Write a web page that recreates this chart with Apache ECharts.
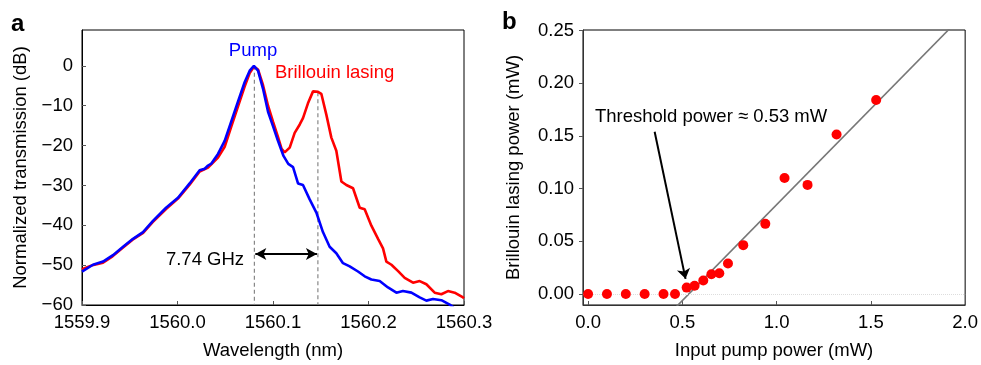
<!DOCTYPE html>
<html>
<head>
<meta charset="utf-8">
<script src="https://cdn.jsdelivr.net/npm/echarts@6/dist/echarts.min.js"></script>
<style>
html,body{margin:0;padding:0;background:#fff;}
#chart{width:981px;height:365px;}
</style>
</head>
<body>
<div id="chart"></div>
<script>
// ---------- Panel a data ----------
const pumpNm = [1559.900,1559.9115,1559.922,1559.9324,1559.943,1559.9534,1559.9639,1559.9743,1559.988,1560.0005,1560.0127,1560.0232,1560.0285,1560.032,1560.0355,1560.0424,1560.0494,1560.0564,1560.0633,1560.0703,1560.0756,1560.080,1560.0843,1560.0895,1560.0948,1560.100,1560.1052,1560.1110,1560.1160,1560.121,1560.1262,1560.1314,1560.1384,1560.1454,1560.1523,1560.1593,1560.1663,1560.1733,1560.1803,1560.189,1560.196,1560.203,1560.2117,1560.2204,1560.2292,1560.236,1560.2449,1560.2536,1560.2606,1560.2675,1560.2763,1560.285,1560.289];
const pumpDb = [-51.6,-49.9,-49.1,-47.5,-45.4,-43.4,-41.7,-38.9,-35.6,-33.1,-29.5,-26.2,-25.8,-25.0,-24.5,-22.1,-18.8,-13.9,-9.0,-4.1,-1.2,0,-1.2,-5.7,-11.5,-15.1,-18.8,-22.6,-24.6,-25.4,-29.5,-29.9,-33.5,-36.8,-41.7,-45.4,-47.0,-49.5,-50.3,-51.6,-52.8,-53.6,-54.0,-55.6,-56.9,-56.5,-56.9,-58.1,-58.9,-58.5,-58.8,-59.9,-60.6];

const stokesNm = [1559.900,1559.911,1559.922,1559.932,1559.943,1559.953,1559.964,1559.974,1559.988,1560.0005,1560.0127,1560.0232,1560.032,1560.0424,1560.0494,1560.0564,1560.0633,1560.0703,1560.0756,1560.080,1560.0843,1560.0895,1560.0948,1560.100,1560.1052,1560.109,1560.1122,1560.1175,1560.1227,1560.128,1560.1314,1560.1366,1560.1419,1560.1471,1560.1506,1560.1559,1560.1611,1560.1663,1560.1716,1560.1768,1560.1838,1560.1908,1560.196,1560.203,1560.210,1560.2152,1560.2187,1560.224,1560.231,1560.2379,1560.2466,1560.2536,1560.2606,1560.2693,1560.2763,1560.2832,1560.2902,1560.299,1560.300];
const stokesDb = [-51.0,-50.0,-49.4,-47.8,-45.6,-43.6,-41.9,-39.2,-35.9,-33.3,-29.8,-26.5,-25.5,-23.0,-20.3,-15.2,-10.2,-5.2,-1.8,-0.2,-0.9,-4.8,-10.0,-14.0,-17.8,-20.8,-21.7,-20.5,-16.8,-14.7,-13.1,-9.4,-6.4,-6.5,-7.0,-12.3,-18.0,-21.3,-29.0,-29.9,-30.7,-35.6,-36.0,-40.1,-43.4,-45.8,-49.1,-49.9,-51.5,-53.2,-54.4,-54.0,-54.8,-56.9,-57.3,-56.5,-56.9,-58.1,-58.3];

const wavelengthTicks = [1559.9,1560.0,1560.1,1560.2,1560.3];
const transmissionTicks = [-60,-50,-40,-30,-20,-10,0];

// markers: pump peak, Stokes peak, arrow level
const pumpPeakNm = 1560.0805;
const stokesPeakNm = 1560.1470;
const pumpPeakDb = 0;
const stokesPeakDb = -6.6;
const arrowDb = -47.2;

// ---------- Panel b data ----------
const inputPower = [0.0,0.1,0.2,0.3,0.4,0.461,0.523,0.565,0.611,0.654,0.696,0.742,0.823,0.940,1.042,1.164,1.318,1.528];
const lasingPower = [0.0,0.0,0.0,0.0,0.0,0.0,0.006,0.0078,0.0127,0.0187,0.0196,0.0289,0.0463,0.0665,0.110,0.1035,0.1514,0.184];
const fitX = [0.47, 1.93];
const fitY = [-0.0118, 0.254];
const powerTicks = [0.0,0.5,1.0,1.5,2.0];
const lasingTicks = [0.00,0.05,0.10,0.15,0.20,0.25];
const arrowFrom = [0.353, 0.154];
const arrowTo = [0.517, 0.0143];

const FONT = 'Liberation Sans, Arial, Helvetica, sans-serif';
const FS = 18.5;
const zip = (a,b) => a.map((v,i)=>[v,b[i]]);
const minus = v => v < 0 ? '\u2212' + Math.abs(v) : String(v);

const chart = echarts.init(document.getElementById('chart'), null, {renderer:'canvas'});

const axisText = {fontFamily: FONT, fontSize: FS, color: '#000'};

const option = {
  animation: false,
  backgroundColor: '#fff',
  grid: [
    {left: 82, right: 517, top: 30, bottom: 54, show: true, borderColor: '#000', borderWidth: 1, backgroundColor: 'transparent'},
    {left: 583, right: 14, top: 30, bottom: 54, show: true, borderColor: '#000', borderWidth: 1, backgroundColor: 'transparent'}
  ],
  xAxis: [
    {
      gridIndex: 0, type: 'value', min: 1559.9, max: 1560.3,
      name: 'Wavelength (nm)', nameLocation: 'middle', nameGap: 36,
      nameTextStyle: axisText,
      axisLine: {onZero: false, lineStyle: {color: '#000', width: 1}},
      axisTick: {inside: true, length: 4, customValues: wavelengthTicks, lineStyle: {color: '#555'}},
      axisLabel: {customValues: wavelengthTicks, formatter: v => v.toFixed(1), margin: 8, ...axisText},
      splitLine: {show: false}
    },
    {
      gridIndex: 1, type: 'value', min: -0.027, max: 2.0,
      name: 'Input pump power (mW)', nameLocation: 'middle', nameGap: 36,
      nameTextStyle: axisText,
      axisLine: {onZero: false, lineStyle: {color: '#333', width: 1}},
      axisTick: {inside: true, length: 4, customValues: powerTicks, lineStyle: {color: '#555'}},
      axisLabel: {customValues: powerTicks, formatter: v => v.toFixed(1), margin: 8, ...axisText},
      splitLine: {show: false}
    }
  ],
  yAxis: [
    {
      gridIndex: 0, type: 'value', min: -60, max: 9,
      name: 'Normalized transmission (dB)', nameLocation: 'middle', nameGap: 52,
      nameTextStyle: axisText,
      axisLine: {onZero: false, lineStyle: {color: '#000', width: 1}},
      axisTick: {inside: true, length: 4, customValues: transmissionTicks, lineStyle: {color: '#555'}},
      axisLabel: {customValues: transmissionTicks, formatter: minus, margin: 9, ...axisText},
      splitLine: {show: false}
    },
    {
      gridIndex: 1, type: 'value', min: -0.0105, max: 0.2505,
      name: 'Brillouin lasing power (mW)', nameLocation: 'middle', nameGap: 60,
      nameTextStyle: axisText,
      axisLine: {onZero: false, lineStyle: {color: '#333', width: 1}},
      axisTick: {inside: false, length: 4, customValues: lasingTicks, lineStyle: {color: '#555'}},
      axisLabel: {customValues: lasingTicks, formatter: v => v.toFixed(2), margin: 9, ...axisText},
      splitLine: {show: false}
    }
  ],
  series: [
    // dashed guide lines (panel a)
    {
      type: 'line', xAxisIndex: 0, yAxisIndex: 0, z: 1, symbol: 'none', silent: true,
      data: [[pumpPeakNm, pumpPeakDb], [pumpPeakNm, -60]],
      lineStyle: {color: '#888', width: 1.2, type: [4, 3]}
    },
    {
      type: 'line', xAxisIndex: 0, yAxisIndex: 0, z: 1, symbol: 'none', silent: true,
      data: [[stokesPeakNm, stokesPeakDb], [stokesPeakNm, -60]],
      lineStyle: {color: '#888', width: 1.2, type: [4, 3]}
    },
    {
      name: 'Brillouin lasing', type: 'line', xAxisIndex: 0, yAxisIndex: 0, z: 3,
      symbol: 'none', clip: true, data: zip(stokesNm, stokesDb),
      lineStyle: {color: '#ff0000', width: 2.6}
    },
    {
      name: 'Pump', type: 'line', xAxisIndex: 0, yAxisIndex: 0, z: 4,
      symbol: 'none', clip: true, data: zip(pumpNm, pumpDb),
      lineStyle: {color: '#0000ff', width: 2.6},
      markLine: {
        silent: true, symbol: ['arrow', 'arrow'], symbolSize: [9, 11],
        label: {show: false},
        lineStyle: {color: '#000', width: 2, type: 'solid'},
        data: [[{coord: [pumpPeakNm + 0.001, arrowDb]}, {coord: [stokesPeakNm - 0.001, arrowDb]}]]
      }
    },
    // panel b
    {
      type: 'line', xAxisIndex: 1, yAxisIndex: 1, z: 2, symbol: 'none', clip: true,
      data: zip(fitX, fitY),
      lineStyle: {color: '#777', width: 1.6},
      markLine: {
        silent: true, symbol: 'none', label: {show: false},
        lineStyle: {color: '#ddd', width: 1, type: 'dotted'},
        data: [{yAxis: 0}]
      }
    },
    {
      type: 'scatter', xAxisIndex: 1, yAxisIndex: 1, z: 5,
      symbol: 'circle', symbolSize: 10,
      data: zip(inputPower, lasingPower),
      itemStyle: {color: '#ff0000', opacity: 1},
      markLine: {
        silent: true, symbol: ['none', 'arrow'], symbolSize: 10,
        label: {show: false},
        lineStyle: {color: '#000', width: 2, type: 'solid'},
        data: [[{coord: arrowFrom}, {coord: arrowTo}]]
      }
    }
  ],
  graphic: [
    {type: 'text', left: 11, top: 12, style: {text: 'a', font: 'bold 24px ' + FONT, fill: '#000'}},
    {type: 'text', left: 502, top: 10, style: {text: 'b', font: 'bold 24px ' + FONT, fill: '#000'}},
    {type: 'text', x: 253, y: 51, style: {text: 'Pump', font: FS + 'px ' + FONT, fill: '#0000ff', align: 'center', verticalAlign: 'middle'}},
    {type: 'text', x: 275, y: 73, style: {text: 'Brillouin lasing', font: FS + 'px ' + FONT, fill: '#ff0000', align: 'left', verticalAlign: 'middle'}},
    {type: 'text', x: 205, y: 260, style: {text: '7.74 GHz', font: FS + 'px ' + FONT, fill: '#000', align: 'center', verticalAlign: 'middle'}},
    {type: 'text', x: 595, y: 117, style: {text: 'Threshold power \u2248 0.53 mW', font: FS + 'px ' + FONT, fill: '#000', align: 'left', verticalAlign: 'middle'}}
  ]
};
chart.setOption(option);
</script>
</body>
</html>
